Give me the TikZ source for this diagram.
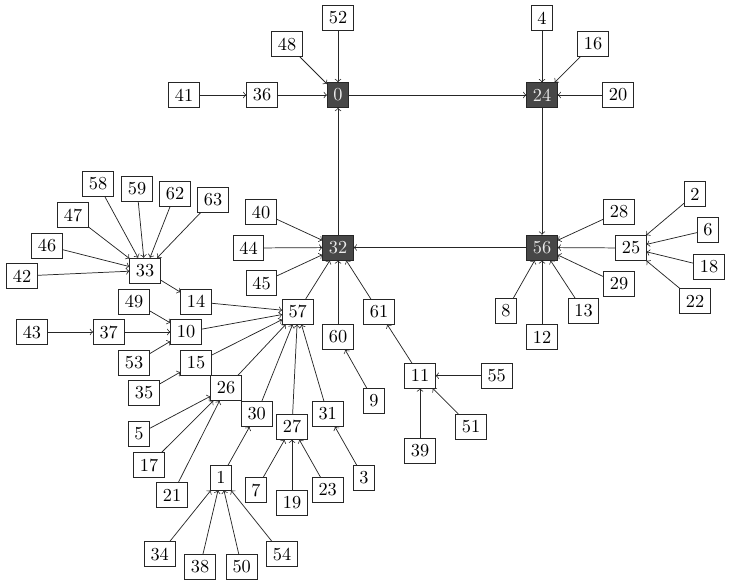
\documentclass[tikz,border=0pt]{standalone}
\begin{document}
\begin{tikzpicture}[x=0.5464pt,y=-0.5464pt,
  nd/.style={draw=black!85,fill=white,rectangle,inner sep=3.33pt},
  hub/.style={draw=black!85,fill=black!72,text=black!8,rectangle,inner sep=3.33pt},
  ed/.style={->,draw=black!85}]
\useasboundingbox (0,0) rectangle (730,586);
% hubs
\node[hub] (n0) at (338,95) {0};
\node[hub] (n24) at (542,95) {24};
\node[hub] (n32) at (338,247.5) {32};
\node[hub] (n56) at (542,247.5) {56};
% others
\node[nd] (n52) at (338,18) {52};
\node[nd] (n48) at (287,44) {48};
\node[nd] (n36) at (262,95) {36};
\node[nd] (n41) at (184,95) {41};
\node[nd] (n4) at (542,18) {4};
\node[nd] (n16) at (593,44) {16};
\node[nd] (n20) at (618,95) {20};
\node[nd] (n28) at (619,212) {28};
\node[nd] (n29) at (619,284) {29};
\node[nd] (n13) at (583.5,311) {13};
\node[nd] (n12) at (542,337) {12};
\node[nd] (n8) at (506,311) {8};
\node[nd] (n25) at (631,248) {25};
\node[nd] (n2) at (695,194) {2};
\node[nd] (n6) at (708,230) {6};
\node[nd] (n18) at (709,267) {18};
\node[nd] (n22) at (695,301) {22};
\node[nd] (n40) at (261,212) {40};
\node[nd] (n44) at (248.5,248) {44};
\node[nd] (n45) at (261.5,283) {45};
\node[nd] (n57) at (297.7,311.7) {57};
\node[nd] (n60) at (338,337) {60};
\node[nd] (n61) at (379,311.7) {61};
\node[nd] (n9) at (374,401) {9};
\node[nd] (n11) at (420,375.7) {11};
\node[nd] (n55) at (496.7,375.7) {55};
\node[nd] (n51) at (471,426.7) {51};
\node[nd] (n39) at (420,451) {39};
\node[nd] (n33) at (145,270.5) {33};
\node[nd] (n58) at (98,184) {58};
\node[nd] (n59) at (137,189) {59};
\node[nd] (n62) at (175,194) {62};
\node[nd] (n63) at (213,199.7) {63};
\node[nd] (n47) at (73,215) {47};
\node[nd] (n46) at (47,245.7) {46};
\node[nd] (n42) at (22,276) {42};
\node[nd] (n14) at (196,301.7) {14};
\node[nd] (n49) at (134,301.7) {49};
\node[nd] (n10) at (186,332) {10};
\node[nd] (n37) at (108.7,332) {37};
\node[nd] (n43) at (32,332) {43};
\node[nd] (n53) at (134,363) {53};
\node[nd] (n15) at (196,363) {15};
\node[nd] (n35) at (144,393) {35};
\node[nd] (n26) at (226,388) {26};
\node[nd] (n5) at (139,434) {5};
\node[nd] (n17) at (149,465) {17};
\node[nd] (n21) at (172,495) {21};
\node[nd] (n30) at (256.7,414) {30};
\node[nd] (n27) at (292,426.7) {27};
\node[nd] (n31) at (327.7,414) {31};
\node[nd] (n1) at (221,477.7) {1};
\node[nd] (n7) at (256,490) {7};
\node[nd] (n19) at (292,503) {19};
\node[nd] (n23) at (327.7,490) {23};
\node[nd] (n3) at (364,478) {3};
\node[nd] (n34) at (159.7,554) {34};
\node[nd] (n38) at (200,566.7) {38};
\node[nd] (n50) at (241.7,566.7) {50};
\node[nd] (n54) at (282,554) {54};
% edges
\foreach \a/\b in {41/36,36/0,48/0,52/0,32/0,0/24,4/24,16/24,20/24,24/56,
  56/32,28/56,29/56,8/56,12/56,13/56,25/56,2/25,6/25,18/25,22/25,
  40/32,44/32,45/32,57/32,60/32,61/32,
  14/57,10/57,15/57,26/57,30/57,27/57,31/57,
  42/33,46/33,47/33,58/33,59/33,62/33,63/33,33/14,
  49/10,37/10,53/10,43/37,35/15,5/26,17/26,21/26,
  1/30,34/1,38/1,50/1,54/1,7/27,19/27,23/27,3/31,9/60,
  11/61,55/11,51/11,39/11}
  \draw[ed] (n\a) -- (n\b);
\end{tikzpicture}
\end{document}
